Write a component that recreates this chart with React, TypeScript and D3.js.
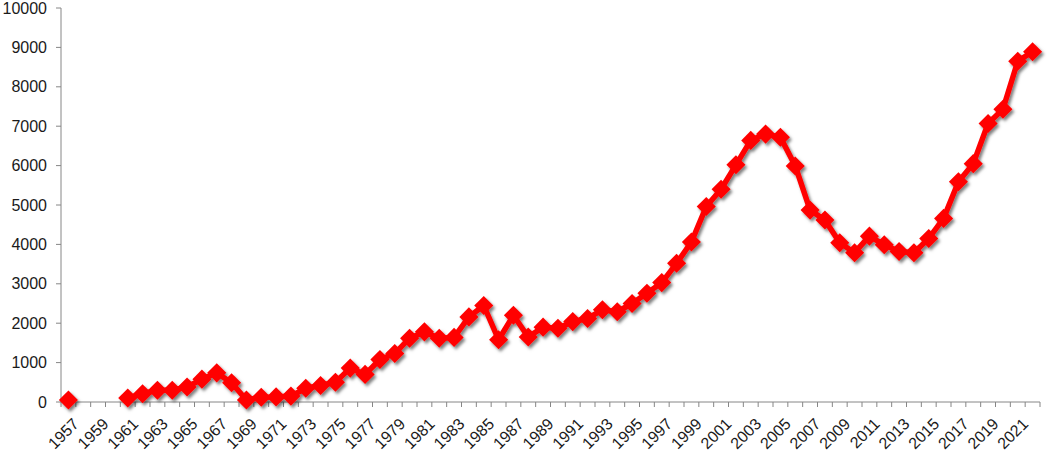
import React from "react";
import * as d3 from "d3";

const years: string[] = d3.range(1957, 2023).map(String);
const values: (number | null)[] = [
  50, null, null, null,
  100, 210, 300, 300, 380, 580, 740, 490, 50, 120,
  130, 150, 350, 420, 500, 860, 700, 1080, 1230, 1620,
  1780, 1620, 1640, 2160, 2450, 1580, 2200, 1650, 1900, 1870,
  2040, 2120, 2340, 2290, 2500, 2760, 3030, 3520, 4060, 4960,
  5400, 6020, 6640, 6800, 6720, 5990, 4870, 4620, 4040, 3790,
  4210, 3990, 3820, 3790, 4150, 4660, 5590, 6050, 7070, 7430,
  8650, 8890,
];
const yTicks: number[] = d3.range(0, 10001, 1000);

const W = 1051, H = 451;
const left = 61, right = 1040, top = 8, bottom = 402;

export default function App() {
  const x = d3.scaleBand<string>().domain(years).range([left, right]);
  const y = d3.scaleLinear().domain([0, 10000]).range([bottom, top]);
  const cx = (i: number) => (x(years[i]) as number) + x.bandwidth() / 2;
  const line = d3
    .line<number | null>()
    .defined((d) => d !== null)
    .x((_, i) => cx(i))
    .y((d) => y(d as number));
  const sq = d3.symbol().type(d3.symbolSquare).size(13.5 * 13.5)();
  const axisColor = "#868686";
  const font = "'Liberation Sans', Arial, sans-serif";
  return (
    <svg
      width={W}
      height={H}
      style={{ position: "fixed", left: 0, top: 0, background: "#fff" }}
      fontFamily={font}
    >
      <defs>
        <filter id="sh" x="-20%" y="-20%" width="140%" height="140%">
          <feDropShadow dx="2" dy="2.5" stdDeviation="1.6" floodColor="#000" floodOpacity="0.5" />
        </filter>
      </defs>
      <line x1={left} x2={left} y1={top} y2={bottom} stroke={axisColor} strokeWidth={1} />
      {yTicks.map((t) => (
        <g key={t}>
          <line x1={left - 5} x2={left} y1={y(t)} y2={y(t)} stroke={axisColor} />
          <text x={47} y={y(t)} dy="0.35em" textAnchor="end" fontSize={16} fill="#1a1a1a">
            {t}
          </text>
        </g>
      ))}
      <line x1={left} x2={right} y1={bottom} y2={bottom} stroke={axisColor} />
      {years.map((yr) => (
        <line
          key={"t" + yr}
          x1={x(yr) as number}
          x2={x(yr) as number}
          y1={bottom}
          y2={bottom + 5}
          stroke={axisColor}
        />
      ))}
      <line x1={right} x2={right} y1={bottom} y2={bottom + 5} stroke={axisColor} />
      {years.map((yr, i) =>
        i % 2 === 0 ? (
          <text
            key={"l" + yr}
            transform={`translate(${cx(i) + 3.5},${bottom + 15}) rotate(-45)`}
            textAnchor="end"
            dy="0.7em"
            fontSize={16}
            fill="#1a1a1a"
          >
            {yr}
          </text>
        ) : null
      )}
      <g filter="url(#sh)">
        <path d={line(values) || ""} fill="none" stroke="#ff0000" strokeWidth={5.5} strokeLinejoin="round" />
        {values.map((v, i) =>
          v === null ? null : (
            <path
              key={"m" + i}
              d={sq || ""}
              transform={`translate(${cx(i)},${y(v)}) rotate(45)`}
              fill="#ff0000"
            />
          )
        )}
      </g>
    </svg>
  );
}
